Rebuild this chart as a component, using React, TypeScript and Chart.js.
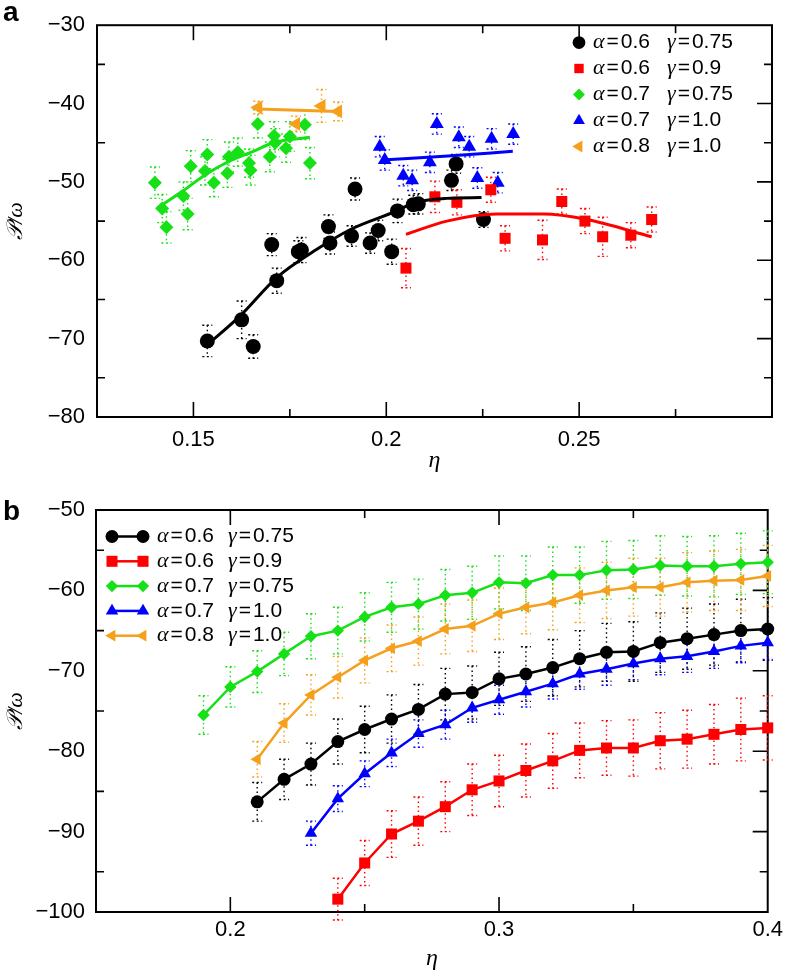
import React, { useEffect, useRef } from 'react';
import { Chart, registerables } from 'chart.js';
Chart.register(...registerables);

// ---------------- Panel a data ----------------
const A_BLACK_X = [0.1536, 0.1625, 0.1655, 0.1703, 0.1716, 0.1772, 0.178, 0.185, 0.1854, 0.191, 0.1919, 0.1958, 0.1979, 0.2014, 0.2029, 0.207, 0.2083, 0.2169, 0.2181, 0.2252];
const A_BLACK_Y = [-70.3, -67.6, -71.0, -58.0, -62.6, -58.9, -58.7, -55.7, -57.8, -56.9, -50.9, -57.8, -56.2, -58.9, -53.7, -52.9, -52.8, -49.8, -47.7, -54.8];
const A_BLACK_ERR = [2.0, 2.4, 1.5, 1.4, 1.6, 1.4, 1.6, 1.5, 1.4, 1.3, 1.4, 1.3, 1.3, 1.6, 1.5, 1.2, 1.3, 1.3, 1.2, 1.0];
const A_BLACK_FIT_X = [0.1536, 0.1621, 0.1716, 0.182, 0.1906, 0.2027, 0.207, 0.2156, 0.2247];
const A_BLACK_FIT_Y = [-70.8, -67.1, -62.2, -58.6, -56.1, -53.7, -52.7, -52.1, -52.0];

const A_RED_X = [0.2051, 0.2126, 0.2183, 0.2271, 0.2308, 0.2405, 0.2455, 0.2515, 0.2561, 0.2634, 0.2688];
const A_RED_Y = [-61.0, -51.9, -52.6, -51.0, -57.2, -57.4, -52.5, -55.0, -57.0, -56.8, -54.8];
const A_RED_ERR = [2.5, 2.0, 1.6, 1.6, 1.6, 2.5, 1.6, 1.6, 2.5, 1.6, 1.6];
const A_RED_FIT_X = [0.2051, 0.2157, 0.2286, 0.2407, 0.252, 0.2688];
const A_RED_FIT_Y = [-56.7, -55.0, -54.1, -54.1, -54.8, -57.0];

const A_GREEN_X = [0.14, 0.1419, 0.143, 0.1474, 0.1485, 0.1493, 0.153, 0.1536, 0.1553, 0.1588, 0.1592, 0.1615, 0.1644, 0.1648, 0.1667, 0.1698, 0.1709, 0.1712, 0.174, 0.175, 0.1789, 0.1802];
const A_GREEN_Y = [-50.1, -53.4, -55.8, -51.8, -54.1, -48.0, -48.6, -46.5, -50.1, -48.9, -46.8, -46.2, -47.6, -48.5, -42.6, -46.8, -44.1, -45.0, -45.7, -44.2, -42.7, -47.6];
const A_GREEN_ERR = [2.0, 1.8, 2.0, 1.8, 2.0, 2.0, 1.8, 1.9, 1.8, 1.8, 1.9, 1.8, 1.8, 1.9, 1.8, 1.9, 1.8, 1.8, 1.8, 1.9, 1.9, 2.0];
const A_GREEN_FIT_X = [0.1405, 0.1474, 0.1534, 0.1595, 0.1655, 0.1707, 0.1802];
const A_GREEN_FIT_Y = [-53.4, -51.1, -49.0, -47.3, -46.1, -45.0, -44.3];

const A_BLUE_X = [0.1983, 0.1996, 0.2044, 0.2067, 0.2113, 0.2131, 0.2188, 0.2215, 0.2236, 0.2273, 0.2289, 0.2329];
const A_BLUE_Y = [-45.5, -47.2, -49.2, -49.8, -47.5, -42.6, -44.3, -45.5, -49.5, -44.5, -50.1, -43.9];
const A_BLUE_ERR = [1.3, 1.3, 1.3, 1.3, 1.3, 1.3, 1.3, 1.3, 1.3, 1.3, 1.3, 1.3];
const A_BLUE_FIT_X = [0.1988, 0.216, 0.2328];
const A_BLUE_FIT_Y = [-47.2, -46.7, -46.1];

const A_ORANGE_X = [0.1668, 0.1766, 0.1832, 0.1875];
const A_ORANGE_Y = [-40.5, -42.6, -40.3, -41.0];
const A_ORANGE_ERR = [0.8, 1.0, 2.1, 1.2];
const A_ORANGE_FIT_X = [0.1668, 0.1875];
const A_ORANGE_FIT_Y = [-40.7, -41.0];

const A_X_MAJOR = [0.15, 0.2, 0.25];
const A_X_MINOR = [0.175, 0.225, 0.275];

// ---------------- Panel b data ----------------
const B_GREEN_X = [0.19, 0.2, 0.21, 0.22, 0.23, 0.24, 0.25, 0.26, 0.27, 0.28, 0.29, 0.3, 0.31, 0.32, 0.33, 0.34, 0.35, 0.36, 0.37, 0.38, 0.39, 0.4];
const B_GREEN_Y = [-75.5, -72.0, -70.1, -67.9, -65.7, -65.0, -63.3, -62.1, -61.7, -60.6, -60.3, -59.0, -59.1, -58.1, -58.1, -57.5, -57.4, -56.9, -57.0, -57.0, -56.7, -56.5];
const B_GREEN_ERR = [2.4, 2.5, 2.6, 2.7, 2.8, 2.9, 3.0, 3.1, 3.1, 3.2, 3.3, 3.3, 3.4, 3.5, 3.5, 3.6, 3.6, 3.7, 3.7, 3.8, 3.8, 3.9];

const B_ORANGE_X = [0.21, 0.22, 0.23, 0.24, 0.25, 0.26, 0.27, 0.28, 0.29, 0.3, 0.31, 0.32, 0.33, 0.34, 0.35, 0.36, 0.37, 0.38, 0.39, 0.4];
const B_ORANGE_Y = [-81.0, -76.5, -73.0, -70.8, -68.7, -67.2, -66.3, -64.8, -64.4, -62.9, -62.1, -61.5, -60.6, -60.0, -59.6, -59.6, -59.0, -58.8, -58.7, -58.2];
const B_ORANGE_ERR = [2.2, 2.4, 2.5, 2.6, 2.8, 2.9, 3.0, 3.1, 3.2, 3.2, 3.3, 3.4, 3.4, 3.5, 3.6, 3.6, 3.7, 3.7, 3.8, 3.8];

const B_BLACK_X = [0.21, 0.22, 0.23, 0.24, 0.25, 0.26, 0.27, 0.28, 0.29, 0.3, 0.31, 0.32, 0.33, 0.34, 0.35, 0.36, 0.37, 0.38, 0.39, 0.4];
const B_BLACK_Y = [-86.3, -83.5, -81.6, -78.8, -77.3, -76.0, -74.8, -72.9, -72.7, -71.0, -70.4, -69.6, -68.5, -67.7, -67.6, -66.5, -66.0, -65.5, -65.0, -64.8];
const B_BLACK_ERR = [2.4, 2.5, 2.6, 2.8, 2.9, 3.0, 3.1, 3.2, 3.3, 3.3, 3.4, 3.5, 3.5, 3.6, 3.7, 3.7, 3.8, 3.8, 3.9, 3.9];

const B_BLUE_X = [0.23, 0.24, 0.25, 0.26, 0.27, 0.28, 0.29, 0.3, 0.31, 0.32, 0.33, 0.34, 0.35, 0.36, 0.37, 0.38, 0.39, 0.4];
const B_BLUE_Y = [-90.2, -85.9, -82.8, -80.2, -77.8, -76.7, -74.6, -73.6, -72.6, -71.6, -70.4, -69.8, -69.1, -68.5, -68.2, -67.6, -66.9, -66.5];
const B_BLUE_ERR = [1.5, 1.6, 1.6, 1.7, 1.7, 1.8, 1.8, 1.8, 1.9, 1.9, 1.9, 2.0, 2.0, 2.0, 2.0, 2.1, 2.1, 2.1];

const B_RED_X = [0.24, 0.25, 0.26, 0.27, 0.28, 0.29, 0.3, 0.31, 0.32, 0.33, 0.34, 0.35, 0.36, 0.37, 0.38, 0.39, 0.4];
const B_RED_Y = [-98.4, -93.9, -90.3, -88.7, -86.9, -84.8, -83.7, -82.4, -81.2, -79.9, -79.6, -79.6, -78.7, -78.5, -77.9, -77.3, -77.1];
const B_RED_ERR = [2.6, 2.8, 2.9, 3.0, 3.1, 3.2, 3.2, 3.3, 3.4, 3.4, 3.4, 3.5, 3.5, 3.6, 3.7, 3.9, 4.0];

const B_X_MAJOR = [0.2, 0.3, 0.4];
const B_X_MINOR = [0.25, 0.35];

// Legend labels
const ALPHA_LABELS = ['0.6', '0.6', '0.7', '0.7', '0.8'];
const GAMMA_LABELS = ['0.75', '0.9', '0.75', '1.0', '1.0'];

const BLACK = '#000000';
const RED = '#ff0000';
const GREEN = '#16e016';
const BLUE = '#0000ff';
const ORANGE = '#f5a01c';

const COLORS = [BLACK, RED, GREEN, BLUE, ORANGE];
const STYLES = ['circle', 'rect', 'rectRot', 'triangle', 'triangle'];
const ROTATIONS = [0, 0, 0, 0, -90];

const TICK_FONT = { family: 'Liberation Sans, Arial, sans-serif', size: 22 };
const SANS = 'Liberation Sans, Arial, sans-serif';
const SERIF = 'Liberation Serif, DejaVu Serif, serif';

function pts(xs: number[], ys: number[]) {
  return xs.map((x, i) => ({ x, y: ys[i] }));
}

function drawMarker(ctx: CanvasRenderingContext2D, style: string, rotation: number, x: number, y: number, r: number, color: string) {
  ctx.save();
  ctx.fillStyle = color;
  ctx.beginPath();
  let rad = (rotation * Math.PI) / 180;
  if (style === 'circle') {
    ctx.arc(x, y, r, 0, Math.PI * 2);
  } else if (style === 'rect') {
    const s = r * Math.SQRT1_2;
    ctx.rect(x - s, y - s, 2 * s, 2 * s);
  } else if (style === 'rectRot') {
    ctx.moveTo(x, y - r);
    ctx.lineTo(x + r, y);
    ctx.lineTo(x, y + r);
    ctx.lineTo(x - r, y);
    ctx.closePath();
  } else {
    ctx.moveTo(x + Math.sin(rad) * r, y - Math.cos(rad) * r);
    rad += (2 * Math.PI) / 3;
    ctx.lineTo(x + Math.sin(rad) * r, y - Math.cos(rad) * r);
    rad += (2 * Math.PI) / 3;
    ctx.lineTo(x + Math.sin(rad) * r, y - Math.cos(rad) * r);
    ctx.closePath();
  }
  ctx.fill();
  ctx.restore();
}

function isIn(v: number, arr: number[]) {
  return arr.some((m) => Math.abs(m - v) < 1e-9);
}

const framePlugin = {
  id: 'frameTicks',
  beforeDatasetsDraw(chart: any) {
    const { ctx, chartArea } = chart;
    const { left, right, top, bottom } = chartArea;
    const xs = chart.scales.x;
    const ys = chart.scales.y;
    ctx.save();
    ctx.strokeStyle = '#000';
    ctx.lineWidth = 1.6;
    ctx.beginPath();
    for (const t of xs.ticks) {
      const px = xs.getPixelForValue(t.value);
      if (px <= left + 1 || px >= right - 1) continue;
      const len = t.label ? 15 : 8;
      ctx.moveTo(px, bottom);
      ctx.lineTo(px, bottom - len);
      ctx.moveTo(px, top);
      ctx.lineTo(px, top + len);
    }
    for (const t of ys.ticks) {
      const py = ys.getPixelForValue(t.value);
      if (py <= top + 1 || py >= bottom - 1) continue;
      const len = t.label ? 15 : 8;
      ctx.moveTo(right, py);
      ctx.lineTo(right - len, py);
      if (!t.label) {
        ctx.moveTo(left, py);
        ctx.lineTo(left + 8, py);
      }
    }
    ctx.stroke();
    ctx.lineWidth = 2;
    ctx.strokeRect(left, top, right - left, bottom - top);
    ctx.restore();
  },
};

const errPlugin = {
  id: 'errBars',
  beforeDatasetsDraw(chart: any) {
    const { ctx } = chart;
    const xs = chart.scales.x;
    const ys = chart.scales.y;
    ctx.save();
    chart.data.datasets.forEach((ds: any) => {
      if (!ds.errors) return;
      ctx.strokeStyle = ds.backgroundColor;
      ctx.lineWidth = 1.4;
      ds.data.forEach((p: any, i: number) => {
        const e = ds.errors[i];
        const px = xs.getPixelForValue(p.x);
        const y1 = ys.getPixelForValue(p.y + e);
        const y2 = ys.getPixelForValue(p.y - e);
        ctx.setLineDash([1.5, 3]);
        ctx.beginPath();
        ctx.moveTo(px, y1);
        ctx.lineTo(px, y2);
        ctx.stroke();
        ctx.setLineDash([2, 2.5]);
        ctx.beginPath();
        ctx.moveTo(px - 5, y1);
        ctx.lineTo(px + 5, y1);
        ctx.moveTo(px - 5, y2);
        ctx.lineTo(px + 5, y2);
        ctx.stroke();
      });
    });
    ctx.restore();
  },
};

function legendText(ctx: CanvasRenderingContext2D, x: number, y: number, greek: string, val: string) {
  ctx.font = `italic 22px ${SERIF}`;
  ctx.fillText(greek, x, y);
  let cx = x + ctx.measureText(greek).width + 2;
  ctx.font = `21px ${SANS}`;
  ctx.fillText('=', cx, y);
  cx += ctx.measureText('=').width + 2;
  ctx.fillText(val, cx, y);
}

function makeLegendPlugin(kind: 'a' | 'b', letter: string, letterY: number) {
  return {
    id: 'customLegend' + kind,
    afterDraw(chart: any) {
      const { ctx } = chart;
      ctx.save();
      ctx.fillStyle = '#000';
      ctx.textBaseline = 'middle';
      ctx.textAlign = 'left';
      const radA = [7.5, 7.8, 7, 8, 8];
      const radB = [6.5, 7.8, 6.2, 7.2, 6.8];
      for (let i = 0; i < 5; i++) {
        if (kind === 'a') {
          const y = 42.5 + i * 26;
          drawMarker(ctx, STYLES[i], ROTATIONS[i], 579, y, radA[i] * 0.85, COLORS[i]);
          ctx.fillStyle = '#000';
          legendText(ctx, 593, y, 'α', ALPHA_LABELS[i]);
          legendText(ctx, 667, y, 'γ', GAMMA_LABELS[i]);
        } else {
          const y = 66.5 + i * 24.8;
          ctx.strokeStyle = COLORS[i];
          ctx.lineWidth = 2.5;
          ctx.beginPath();
          ctx.moveTo(112, y);
          ctx.lineTo(143, y);
          ctx.stroke();
          drawMarker(ctx, STYLES[i], ROTATIONS[i], 112, y, radB[i], COLORS[i]);
          drawMarker(ctx, STYLES[i], ROTATIONS[i], 143, y, radB[i], COLORS[i]);
          ctx.fillStyle = '#000';
          legendText(ctx, 157, y, 'α', ALPHA_LABELS[i]);
          legendText(ctx, 228, y, 'γ', GAMMA_LABELS[i]);
        }
      }
      ctx.font = `bold 28px ${SANS}`;
      ctx.textBaseline = 'alphabetic';
      ctx.fillText(letter, 3, letterY);
      ctx.restore();
    },
  };
}

function scatterSet(label: string, xs: number[], ys: number[], errs: number[], idx: number, r: number, order: number) {
  return {
    label,
    data: pts(xs, ys),
    errors: errs,
    showLine: false,
    pointStyle: STYLES[idx],
    rotation: ROTATIONS[idx],
    pointRadius: r,
    pointBorderWidth: 0,
    borderWidth: 0,
    backgroundColor: COLORS[idx],
    borderColor: COLORS[idx],
    clip: false,
    order,
  };
}

function fitSet(xs: number[], ys: number[], idx: number, order: number) {
  return {
    label: 'fit',
    data: pts(xs, ys),
    showLine: true,
    pointRadius: 0,
    borderWidth: 3,
    borderColor: COLORS[idx],
    backgroundColor: COLORS[idx],
    cubicInterpolationMode: 'monotone',
    fill: false,
    clip: false,
    order,
  };
}

function lineSet(label: string, xs: number[], ys: number[], errs: number[], idx: number, r: number, order: number) {
  return {
    label,
    data: pts(xs, ys),
    errors: errs,
    showLine: true,
    pointStyle: STYLES[idx],
    rotation: ROTATIONS[idx],
    pointRadius: r,
    pointBorderWidth: 0,
    borderWidth: 2.5,
    backgroundColor: COLORS[idx],
    borderColor: COLORS[idx],
    pointBackgroundColor: COLORS[idx],
    fill: false,
    clip: false,
    order,
  };
}

function yTickLabel(v: any) {
  const n = Number(v);
  if (Math.abs(n % 10) > 1e-9) return '';
  return n < 0 ? '\u2212' + Math.abs(n) : String(n);
}

export default function App() {
  const refA = useRef<HTMLCanvasElement>(null);
  const refB = useRef<HTMLCanvasElement>(null);

  useEffect(() => {
    const labels = ALPHA_LABELS.map((a, i) => `α=${a} γ=${GAMMA_LABELS[i]}`);
    const chartA = new Chart(refA.current as HTMLCanvasElement, {
      type: 'scatter',
      data: {
        datasets: [
          fitSet(A_BLACK_FIT_X, A_BLACK_FIT_Y, 0, 0),
          fitSet(A_RED_FIT_X, A_RED_FIT_Y, 1, 0),
          fitSet(A_GREEN_FIT_X, A_GREEN_FIT_Y, 2, 0),
          fitSet(A_BLUE_FIT_X, A_BLUE_FIT_Y, 3, 0),
          fitSet(A_ORANGE_FIT_X, A_ORANGE_FIT_Y, 4, 0),
          scatterSet(labels[0], A_BLACK_X, A_BLACK_Y, A_BLACK_ERR, 0, 7.5, 1),
          scatterSet(labels[1], A_RED_X, A_RED_Y, A_RED_ERR, 1, 7.8, 2),
          scatterSet(labels[2], A_GREEN_X, A_GREEN_Y, A_GREEN_ERR, 2, 7, 4),
          scatterSet(labels[3], A_BLUE_X, A_BLUE_Y, A_BLUE_ERR, 3, 8, 3),
          scatterSet(labels[4], A_ORANGE_X, A_ORANGE_Y, A_ORANGE_ERR, 4, 8, 1),
        ] as any,
      },
      options: {
        responsive: false,
        animation: false,
        events: [],
        layout: { padding: { top: 16, right: 16, left: 0, bottom: 0 } },
        plugins: { legend: { display: false }, tooltip: { enabled: false } },
        scales: {
          x: {
            type: 'linear',
            min: 0.125,
            max: 0.3,
            grid: { display: false, drawTicks: false },
            border: { display: false },
            afterBuildTicks: (s: any) => {
              s.ticks = [...A_X_MAJOR, ...A_X_MINOR].sort((a, b) => a - b).map((v) => ({ value: v }));
            },
            afterFit: (s: any) => {
              s.height = 63;
            },
            ticks: {
              autoSkip: false,
              maxRotation: 0,
              padding: 10,
              color: '#000',
              font: TICK_FONT,
              callback: (v: any) => (isIn(Number(v), A_X_MAJOR) ? String(Number(v)) : ''),
            },
            title: {
              display: true,
              text: 'η',
              color: '#000',
              font: { family: SERIF, style: 'italic', size: 24 },
              padding: { top: 0, bottom: 5 },
            },
          },
          y: {
            type: 'linear',
            min: -80,
            max: -30,
            grid: { display: false, drawTicks: false },
            border: { display: false },
            afterFit: (s: any) => {
              s.width = 97;
            },
            ticks: {
              stepSize: 5,
              autoSkip: false,
              padding: 12,
              color: '#000',
              font: TICK_FONT,
              callback: yTickLabel,
            },
            title: {
              display: true,
              text: '𝒫/ω',
              color: '#000',
              font: { family: SERIF, style: 'italic', size: 22 },
              padding: { top: 3, bottom: 0 },
            },
          },
        },
      } as any,
      plugins: [framePlugin, errPlugin, makeLegendPlugin('a', 'a', 21)],
    });

    const chartB = new Chart(refB.current as HTMLCanvasElement, {
      type: 'scatter',
      data: {
        datasets: [
          lineSet(labels[0], B_BLACK_X, B_BLACK_Y, B_BLACK_ERR, 0, 6.5, 1),
          lineSet(labels[1], B_RED_X, B_RED_Y, B_RED_ERR, 1, 7.8, 2),
          lineSet(labels[2], B_GREEN_X, B_GREEN_Y, B_GREEN_ERR, 2, 6.2, 5),
          lineSet(labels[3], B_BLUE_X, B_BLUE_Y, B_BLUE_ERR, 3, 7.2, 3),
          lineSet(labels[4], B_ORANGE_X, B_ORANGE_Y, B_ORANGE_ERR, 4, 6.8, 4),
        ] as any,
      },
      options: {
        responsive: false,
        animation: false,
        events: [],
        layout: { padding: { top: 40, right: 16, left: 0, bottom: 0 } },
        plugins: { legend: { display: false }, tooltip: { enabled: false } },
        scales: {
          x: {
            type: 'linear',
            min: 0.15,
            max: 0.4,
            grid: { display: false, drawTicks: false },
            border: { display: false },
            afterBuildTicks: (s: any) => {
              s.ticks = [...B_X_MAJOR, ...B_X_MINOR].sort((a, b) => a - b).map((v) => ({ value: v }));
            },
            afterFit: (s: any) => {
              s.height = 61;
            },
            ticks: {
              autoSkip: false,
              maxRotation: 0,
              padding: 5,
              color: '#000',
              font: TICK_FONT,
              callback: (v: any) => (isIn(Number(v), B_X_MAJOR) ? String(Number(v)) : ''),
            },
            title: {
              display: true,
              text: 'η',
              color: '#000',
              font: { family: SERIF, style: 'italic', size: 24 },
              padding: { top: 0, bottom: 0 },
            },
          },
          y: {
            type: 'linear',
            min: -100,
            max: -50,
            grid: { display: false, drawTicks: false },
            border: { display: false },
            afterFit: (s: any) => {
              s.width = 96;
            },
            ticks: {
              stepSize: 5,
              autoSkip: false,
              padding: 11,
              color: '#000',
              font: TICK_FONT,
              callback: yTickLabel,
            },
            title: {
              display: true,
              text: '𝒫/ω',
              color: '#000',
              font: { family: SERIF, style: 'italic', size: 22 },
              padding: { top: 3, bottom: 0 },
            },
          },
        },
      } as any,
      plugins: [framePlugin, errPlugin, makeLegendPlugin('b', 'b', 50)],
    });

    return () => {
      chartA.destroy();
      chartB.destroy();
    };
  }, []);

  return (
    <div style={{ position: 'absolute', left: 0, top: 0, width: 788, height: 973, background: '#fff', overflow: 'hidden' }}>
      <canvas ref={refA} width={788} height={480} style={{ position: 'absolute', left: 0, top: 0, width: 788, height: 480 }} />
      <canvas ref={refB} width={788} height={503} style={{ position: 'absolute', left: 0, top: 470, width: 788, height: 503 }} />
    </div>
  );
}
